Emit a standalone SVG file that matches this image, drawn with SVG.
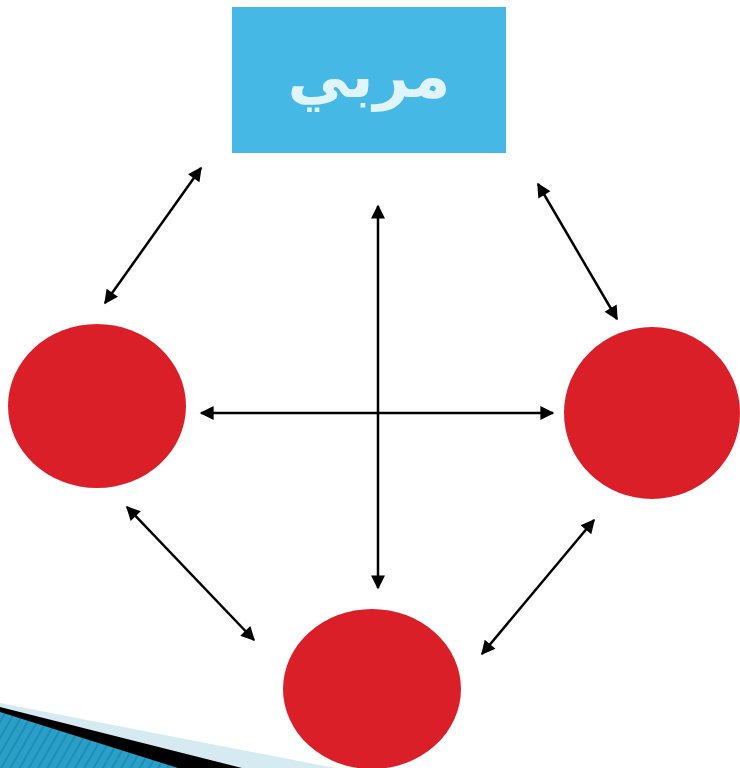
<svg xmlns="http://www.w3.org/2000/svg" width="740" height="768" viewBox="0 0 740 768">
<style>
.c{fill:#da1f28}
.a{stroke:#000;stroke-width:2.5;fill:none;marker-start:url(#h);marker-end:url(#h)}
.t{font-family:"DejaVu Sans","Noto Sans",sans-serif;font-weight:bold;font-size:62px;fill:#dff4fb}
</style>
<defs>
<marker id="h" viewBox="0 0 10 10" refX="9" refY="5" markerWidth="6.4" markerHeight="5.6" orient="auto-start-reverse" markerUnits="strokeWidth">
<path d="M0,0 L10,5 L0,10 Z" fill="#000"/>
</marker>
<pattern id="st" width="8" height="8" patternUnits="userSpaceOnUse" patternTransform="rotate(30)">
<rect width="8" height="8" fill="#2aa0c8"/>
<rect width="2" height="8" fill="#1f8db5"/>
</pattern>
</defs>
<g id="deco">
<polygon points="0,703 335,768 0,768" fill="#d6eaf2"/>
<polygon points="0,707 242,768 0,768" fill="#000"/>
<polygon points="0,712 178,768 0,768" fill="url(#st)"/>
</g>
<g id="title">
<rect x="232" y="7" width="274" height="146" fill="#45b8e6"/>
<text class="t" x="369" y="97" text-anchor="middle" direction="rtl">مربي</text>
</g>
<g id="left"><ellipse class="c" cx="97" cy="406" rx="89" ry="82"/></g>
<g id="right"><ellipse class="c" cx="652" cy="413" rx="88" ry="86"/></g>
<g id="bottom"><ellipse class="c" cx="372" cy="689" rx="89" ry="80"/></g>
<g id="connectors">
<line class="a" x1="201" y1="168" x2="105" y2="303"/>
<line class="a" x1="538" y1="184" x2="617" y2="319"/>
<line class="a" x1="378" y1="206" x2="378" y2="588"/>
<line class="a" x1="201" y1="413" x2="553" y2="413"/>
<line class="a" x1="127" y1="507" x2="254" y2="640"/>
<line class="a" x1="594" y1="520" x2="482" y2="654"/>
</g>
</svg>
